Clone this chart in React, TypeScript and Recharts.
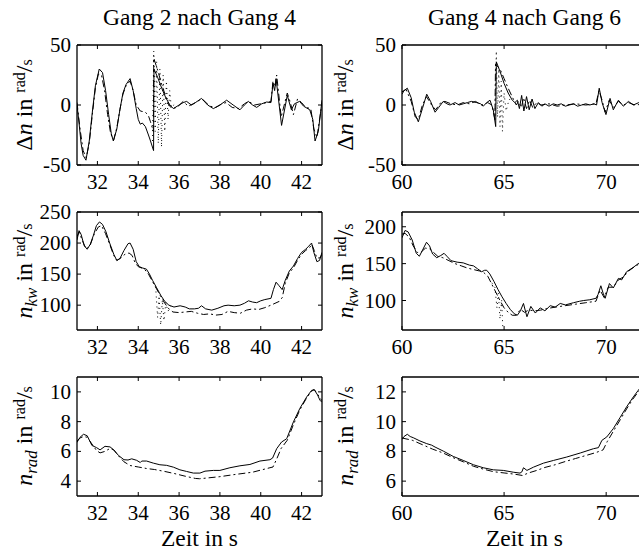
import { LineChart, Line, XAxis, YAxis } from 'recharts'

// [time in s, value] pairs
const a1Solid: [number, number][] = [
  [31.0, 0], [31.1, -15], [31.2, -32], [31.3, -42], [31.44, -46], [31.6, -30], [31.75, -6], [31.9, 16],
  [32.09, 30], [32.25, 27], [32.4, 12], [32.55, -8], [32.68, -24], [32.78, -30], [32.95, -20], [33.1, -4],
  [33.25, 10], [33.4, 17], [33.6, 22], [33.75, 12], [33.9, -3], [34.0, -12], [34.1, -16], [34.2, -15],
  [34.35, -18], [34.5, -25], [34.6, -30], [34.75, -38], [34.77, 30], [34.95, 23], [35.15, 14], [35.35, 6],
  [35.55, 0], [35.72, -3], [36.0, 0], [36.2, 2], [36.37, 3], [36.6, 0], [36.8, 2], [37.1, 5.5],
  [37.4, 0], [37.68, -3], [38.0, 0], [38.33, 4], [38.65, 0], [38.98, -4], [39.2, 0], [39.39, 3],
  [39.6, 0], [39.8, -2], [40.05, 1], [40.29, 2.5], [40.5, 2], [40.6, 18], [40.68, 12], [40.75, 22],
  [41.02, -17], [41.3, 8], [41.5, -4], [41.65, 1], [41.9, 3], [42.1, -1], [42.4, -4], [42.55, -12],
  [42.66, -30], [42.82, -22], [43.0, 4],
]
const a1Model: [number, number][] = [
  [31.0, 2], [31.15, -20], [31.3, -38], [31.45, -44], [31.6, -32], [31.75, -8], [31.9, 14], [32.05, 26],
  [32.2, 25], [32.35, 12], [32.5, -8], [32.65, -24], [32.8, -29], [32.95, -19], [33.1, -4], [33.25, 9],
  [33.4, 16], [33.6, 20], [33.75, 12], [33.9, 0], [34.1, -5], [34.35, -6], [34.5, -9], [34.6, -14],
  [34.74, -22], [34.76, 39], [34.95, 29], [35.15, 17], [35.35, 7], [35.5, 0], [35.65, -3], [35.9, -2],
  [36.2, 3], [36.45, -1], [36.7, 1], [37.0, 4], [37.2, 4], [37.5, -1], [37.8, -2], [38.1, 1],
  [38.3, 2], [38.6, -2], [38.9, -3], [39.2, 1], [39.4, 3], [39.7, 0], [40.0, 1], [40.3, 2],
  [40.5, 3], [40.6, 20], [40.7, 15], [40.78, 25], [41.0, -10], [41.3, 10], [41.45, 2], [41.6, -8],
  [41.8, 5], [42.0, 2], [42.2, -2], [42.45, -3], [42.6, -20], [42.75, -27], [42.9, -10], [43.0, 2],
]
const a1Dot: [number, number][] = [
  [34.7, -30], [34.76, 45], [34.83, -22], [34.9, 36], [34.98, -32], [35.06, 30], [35.14, -35],
  [35.22, 25], [35.3, -22], [35.38, 20], [35.46, -12], [35.54, 12], [35.62, -2], [35.8, 1],
]

const b1Solid: [number, number][] = [
  [60.0, 9], [60.1, 12], [60.26, 14], [60.45, 6], [60.6, -6], [60.8, -14], [61.0, -3], [61.21, 9],
  [61.4, 3], [61.62, -6], [61.8, -2], [62.02, 3], [62.2, 1], [62.35, 0], [62.6, 2], [62.8, 0],
  [63.0, 1], [63.2, 2], [63.4, 3], [63.66, 2], [63.85, 1], [63.98, -1], [64.15, 2], [64.31, 4],
  [64.47, -4], [64.59, -18], [64.62, 36], [64.8, 28], [65.0, 18], [65.2, 10], [65.4, 4], [65.53, 2],
  [65.65, 4], [65.75, -3], [65.86, 8], [65.97, -5], [66.1, 7], [66.23, -4], [66.37, 5], [66.51, -3],
  [66.68, 2], [66.85, -1], [67.0, 1], [67.2, -1], [67.41, 1], [67.6, 0], [67.8, 1], [68.0, -1],
  [68.2, 0], [68.4, 1], [68.6, -1], [68.8, 0], [69.0, 1], [69.2, 0], [69.4, 1], [69.53, 0],
  [69.66, 14], [69.8, 2], [69.99, -8], [70.19, 5.5], [70.35, -4], [70.6, 4], [70.84, -1], [71.09, 3],
  [71.33, 0], [71.6, 2], [71.8, 0], [72.0, 1],
]
const b1Model: [number, number][] = [
  [60.0, 11], [60.2, 13], [60.45, 3], [60.65, -10], [60.8, -12], [61.0, 0], [61.2, 7], [61.45, 0],
  [61.65, -4], [61.9, 2], [62.1, 3], [62.4, 1], [62.7, 0], [63.0, 2], [63.3, 1], [63.6, 3],
  [63.9, 0], [64.2, 2], [64.4, 0], [64.55, -12], [64.58, 34], [64.8, 30], [65.0, 22], [65.2, 14],
  [65.45, 5], [65.6, 0], [65.7, 3], [65.85, -2], [65.95, 6], [66.1, -3], [66.25, 4], [66.4, -2],
  [66.6, 2], [66.8, 0], [67.2, 1], [67.6, -1], [68.0, 0], [68.5, 1], [69.0, 0], [69.5, 1],
  [69.65, 12], [69.8, 4], [69.95, -6], [70.15, 4], [70.35, -2], [70.6, 3], [70.85, 0], [71.1, 2],
  [71.4, 0], [72.0, 1],
]
const b1Dot: [number, number][] = [
  [64.55, -12], [64.62, 45], [64.68, -10], [64.74, 30], [64.8, -18], [64.86, 20], [64.92, -22],
  [65.0, 10], [65.1, -5], [65.25, 5], [65.4, 2],
]

const a2Solid: [number, number][] = [
  [31.0, 205], [31.1, 220], [31.2, 214], [31.35, 196], [31.5, 190], [31.65, 198], [31.8, 212], [31.95, 228],
  [32.1, 234], [32.25, 230], [32.42, 218], [32.6, 200], [32.8, 182], [32.95, 172], [33.1, 175], [33.3, 188],
  [33.5, 199], [33.6, 200], [33.75, 190], [33.9, 170], [34.05, 162], [34.2, 160], [34.4, 158], [34.55, 150],
  [34.7, 140], [34.9, 128], [35.1, 116], [35.3, 106], [35.5, 100], [35.75, 97], [36.05, 99], [36.3, 97],
  [36.5, 94], [36.75, 94], [36.95, 95], [37.1, 99], [37.3, 94], [37.6, 92], [37.9, 95], [38.2, 99],
  [38.4, 100], [38.7, 99], [38.98, 100], [39.2, 103], [39.4, 107], [39.6, 105], [39.8, 104], [40.0, 107],
  [40.2, 109], [40.5, 111], [40.62, 125], [40.75, 137], [40.88, 132], [41.05, 125], [41.2, 140], [41.4, 155],
  [41.6, 163], [41.8, 175], [42.0, 185], [42.2, 190], [42.35, 195], [42.49, 200], [42.6, 185], [42.75, 170],
  [42.88, 172], [43.0, 185],
]
const a2Model: [number, number][] = [
  [31.0, 210], [31.1, 218], [31.25, 205], [31.45, 190], [31.65, 197], [31.85, 215], [32.05, 226], [32.2, 228],
  [32.4, 215], [32.6, 198], [32.8, 180], [32.95, 172], [33.15, 176], [33.35, 182], [33.55, 184], [33.7, 180],
  [33.85, 168], [34.0, 162], [34.3, 158], [34.5, 150], [34.7, 138], [34.9, 126], [35.1, 114], [35.3, 103],
  [35.5, 94], [35.7, 89], [36.0, 88], [36.3, 89], [36.6, 90], [36.9, 87], [37.2, 85], [37.5, 86],
  [37.8, 84], [38.1, 85], [38.4, 90], [38.7, 88], [39.0, 87], [39.3, 92], [39.6, 94], [39.9, 93],
  [40.2, 96], [40.5, 100], [40.9, 106], [41.05, 112], [41.2, 135], [41.4, 152], [41.6, 160], [41.8, 172],
  [42.0, 182], [42.2, 188], [42.4, 193], [42.5, 198], [42.62, 188], [42.75, 176], [42.9, 176], [43.0, 182],
]
const a2Dot: [number, number][] = [
  [34.85, 130], [34.95, 80], [35.02, 115], [35.1, 68], [35.18, 108], [35.26, 75], [35.35, 104],
  [35.45, 90], [35.6, 98],
]

const b2Solid: [number, number][] = [
  [60.0, 185], [60.15, 195], [60.3, 193], [60.5, 182], [60.7, 164], [60.85, 160], [61.0, 168], [61.2, 179],
  [61.35, 174], [61.5, 163], [61.7, 158], [61.9, 161], [62.06, 164], [62.2, 160], [62.4, 154], [62.7, 152],
  [63.0, 151], [63.3, 148], [63.5, 147], [63.7, 143], [63.9, 139], [64.05, 141], [64.15, 141], [64.3, 136],
  [64.5, 126], [64.7, 115], [64.9, 105], [65.1, 96], [65.3, 88], [65.5, 82], [65.65, 80], [65.8, 86],
  [65.95, 96], [66.05, 85], [66.12, 78], [66.31, 92], [66.53, 83], [66.77, 90], [67.0, 86], [67.26, 93],
  [67.5, 91], [67.75, 96], [68.0, 94], [68.4, 97], [68.7, 99], [68.9, 100], [69.2, 101], [69.5, 103],
  [69.6, 108], [69.74, 120], [69.85, 110], [69.95, 103], [70.16, 123], [70.35, 117], [70.6, 130], [70.76, 128],
  [71.0, 139], [71.33, 145], [71.57, 150], [72.0, 156],
]
const b2Model: [number, number][] = [
  [60.0, 190], [60.15, 191], [60.35, 186], [60.55, 174], [60.75, 165], [60.95, 166], [61.15, 171], [61.35, 170],
  [61.55, 165], [61.75, 160], [62.0, 158], [62.3, 154], [62.6, 150], [62.9, 147], [63.2, 144], [63.5, 142],
  [63.8, 140], [64.0, 138], [64.2, 133], [64.4, 122], [64.6, 111], [64.8, 100], [65.0, 90], [65.2, 84],
  [65.4, 80], [65.6, 80], [65.8, 88], [66.0, 84], [66.2, 87], [66.5, 86], [66.8, 87], [67.1, 89],
  [67.5, 91], [68.0, 93], [68.5, 95], [69.0, 97], [69.5, 99], [69.7, 114], [69.9, 104], [70.1, 118],
  [70.35, 118], [70.6, 128], [70.85, 132], [71.1, 140], [71.4, 146], [71.7, 151], [72.0, 156],
]
const b2Dot: [number, number][] = [
  [64.4, 124], [64.55, 118], [64.65, 90], [64.72, 110], [64.8, 75], [64.88, 100], [64.95, 55],
]

const a3Solid: [number, number][] = [
  [31.0, 6.6], [31.15, 6.95], [31.32, 7.15], [31.5, 7.05], [31.73, 6.4], [31.96, 6.25], [32.13, 6.1], [32.37, 6.34],
  [32.62, 6.3], [32.8, 6.1], [33.03, 5.73], [33.3, 5.44], [33.5, 5.42], [33.68, 5.5], [33.92, 5.4], [34.1, 5.25],
  [34.17, 5.35], [34.41, 5.35], [34.74, 5.21], [35.06, 5.1], [35.39, 5.06], [35.72, 4.94], [36.04, 4.76], [36.37, 4.65],
  [36.7, 4.54], [37.02, 4.54], [37.27, 4.67], [37.68, 4.72], [38.0, 4.72], [38.49, 4.9], [38.98, 5.03], [39.47, 5.12],
  [39.96, 5.35], [40.45, 5.44], [40.58, 5.55], [40.78, 6.18], [41.02, 6.63], [41.27, 6.85], [41.6, 7.98], [41.92, 8.9],
  [42.25, 9.66], [42.49, 10.1], [42.62, 10.15], [42.78, 9.8], [42.9, 9.44], [43.0, 9.3],
]
const a3Model: [number, number][] = [
  [31.0, 6.7], [31.15, 6.9], [31.32, 7.0], [31.5, 6.95], [31.73, 6.5], [31.96, 6.05], [32.13, 5.9], [32.37, 6.0],
  [32.62, 6.2], [32.8, 6.1], [33.03, 5.7], [33.3, 5.3], [33.6, 5.05], [34.0, 4.95], [34.4, 4.85], [34.8, 4.78],
  [35.3, 4.65], [35.8, 4.5], [36.3, 4.33], [36.8, 4.18], [37.0, 4.16], [37.3, 4.2], [38.0, 4.3], [38.65, 4.43],
  [39.6, 4.6], [40.45, 4.9], [40.6, 4.95], [40.8, 5.55], [41.0, 6.2], [41.3, 6.75], [41.6, 7.8], [41.92, 8.8],
  [42.25, 9.6], [42.49, 10.05], [42.62, 10.15], [42.78, 9.85], [43.0, 9.4],
]

const b3Solid: [number, number][] = [
  [60.0, 8.8], [60.1, 9.0], [60.26, 9.15], [60.4, 9.0], [60.55, 8.92], [60.88, 8.7], [61.21, 8.52], [61.45, 8.42],
  [61.62, 8.29], [62.02, 8.02], [62.51, 7.66], [63.0, 7.39], [63.5, 7.1], [63.98, 6.9], [64.47, 6.76], [64.96, 6.72],
  [65.45, 6.6], [65.78, 6.54], [65.87, 6.62], [65.95, 6.9], [66.12, 6.72], [66.44, 6.94], [66.93, 7.21], [67.42, 7.39],
  [68.07, 7.62], [68.73, 7.89], [69.38, 8.18], [69.62, 8.25], [69.79, 8.74], [70.03, 8.97], [70.35, 9.53], [70.68, 10.27],
  [71.0, 10.99], [71.33, 11.66], [71.57, 12.1], [72.0, 12.85],
]
const b3Model: [number, number][] = [
  [60.0, 8.9], [60.5, 8.75], [61.0, 8.45], [61.5, 8.15], [62.0, 7.9], [62.5, 7.58], [63.0, 7.3], [63.5, 7.0],
  [64.0, 6.8], [64.5, 6.63], [65.0, 6.55], [65.5, 6.47], [65.9, 6.38], [66.2, 6.55], [66.6, 6.72], [67.0, 6.92],
  [67.5, 7.1], [68.0, 7.32], [68.5, 7.52], [69.0, 7.72], [69.5, 7.92], [69.85, 8.1], [70.05, 8.65], [70.35, 9.35],
  [70.7, 10.15], [71.0, 10.85], [71.3, 11.5], [71.6, 12.05], [72.0, 12.75],
]

const leftTimeTicks = [32, 34, 36, 38, 40, 42]
const rightTimeTicks = [60, 65, 70]
const dnTicks = [-50, 0, 50]
const nkwLeftTicks = [100, 150, 200, 250]
const nkwRightTicks = [100, 150, 200]
const nradLeftTicks = [4, 6, 8, 10]
const nradRightTicks = [6, 8, 10, 12]

const FONT = 'Liberation Serif'
const PW = 245
const ML = 60
const MR = 6
const MT = 16
const MB = 36
const TICK = 4

const pts = (arr: [number, number][]) => arr.map(([t, v]) => ({ t, v }))

type Series = { data: [number, number][]; dash?: string }

function BottomTick({ x, y, payload }: any) {
  return (
    <g>
      <line x1={x} y1={y} x2={x} y2={y - TICK} stroke="#000" />
      <text x={x} y={y + 24} textAnchor="middle" fontSize={21} fontFamily={FONT} fill="#000">
        {payload.value}
      </text>
    </g>
  )
}

function LeftTick({ x, y, payload }: any) {
  return (
    <g>
      <line x1={x} y1={y} x2={x + TICK} y2={y} stroke="#000" />
      <text x={x - 6} y={y + 7} textAnchor="end" fontSize={21} fontFamily={FONT} fill="#000">
        {payload.value}
      </text>
    </g>
  )
}

function Panel({
  x, y, h, xDomain, xTicks, yDomain, yTicks, series,
}: {
  x: number; y: number; h: number; xDomain: [number, number]; xTicks: number[]
  yDomain: [number, number]; yTicks: number[]; series: Series[]
}) {
  const axisStroke = { stroke: '#000', strokeWidth: 1.3 }
  return (
    <div style={{ position: 'absolute', left: x - ML, top: y - MT }}>
      <LineChart width={PW + ML + MR} height={h + MT + MB} margin={{ top: 0, right: 0, bottom: 0, left: 0 }}>
        <XAxis
          xAxisId="b" dataKey="t" type="number" domain={xDomain} ticks={xTicks} allowDataOverflow
          orientation="bottom" height={MB} tickSize={0} tickMargin={0} interval={0}
          axisLine={axisStroke} tickLine={false}
          tick={(p: any) => <BottomTick {...p} />}
        />
        <XAxis
          xAxisId="t" dataKey="t" type="number" domain={xDomain} ticks={xTicks} allowDataOverflow
          orientation="top" height={MT} tickSize={0} tickMargin={0} interval={0}
          axisLine={axisStroke} tickLine={false}
          tick={(p: any) => (
            <line x1={p.x} y1={p.y} x2={p.x} y2={p.y + TICK} stroke="#000" />
          )}
        />
        <YAxis
          yAxisId="l" type="number" domain={yDomain} ticks={yTicks} allowDataOverflow
          width={ML} tickSize={0} tickMargin={0} interval={0}
          axisLine={axisStroke} tickLine={false}
          tick={(p: any) => <LeftTick {...p} />}
        />
        <YAxis
          yAxisId="r" orientation="right" type="number" domain={yDomain} ticks={yTicks} allowDataOverflow
          width={MR} tickSize={0} tickMargin={0} interval={0}
          axisLine={axisStroke} tickLine={false}
          tick={(p: any) => (
            <line x1={p.x} y1={p.y} x2={p.x - TICK} y2={p.y} stroke="#000" />
          )}
        />
        {series.map((s, i) => (
          <Line
            key={i}
            xAxisId="b"
            yAxisId="l"
            data={pts(s.data)}
            dataKey="v"
            type="linear"
            stroke="#000"
            strokeWidth={1}
            strokeDasharray={s.dash}
            dot={false}
            activeDot={false}
            isAnimationActive={false}
          />
        ))}
      </LineChart>
    </div>
  )
}

const DASHDOT = '7 3 2 3'
const DOTTED = '1 4'

function YLabel({ x, y, sub, delta }: { x: number; y: number; sub?: string; delta?: boolean }) {
  return (
    <text
      transform={`translate(${x},${y}) rotate(-90)`}
      textAnchor="middle"
      fontSize={24}
      fontFamily={FONT}
      fill="#000"
    >
      {delta && <tspan>Δ</tspan>}
      <tspan fontStyle="italic">n</tspan>
      {sub && (
        <tspan fontStyle="italic" fontSize={17} dy={5}>
          {sub}
        </tspan>
      )}
      <tspan dy={sub ? -5 : 0}> in </tspan>
      <tspan fontSize={16} dy={-7}>rad</tspan>
      <tspan fontSize={24} dy={7}>/</tspan>
      <tspan fontSize={16}>s</tspan>
    </text>
  )
}

export default function App() {
  const lx = 77
  const rx = 402
  const rows = [45, 212, 377]
  const hs = [120, 118, 119]
  return (
    <div style={{ position: 'absolute', left: 0, top: 0, width: 639, height: 552, overflow: 'hidden', background: '#fff' }}>
      <Panel x={lx} y={rows[0]} h={hs[0]} xDomain={[31, 43]} xTicks={leftTimeTicks} yDomain={[-50, 50]} yTicks={dnTicks}
        series={[{ data: a1Dot, dash: DOTTED }, { data: a1Model, dash: DASHDOT }, { data: a1Solid }]} />
      <Panel x={rx} y={rows[0]} h={hs[0]} xDomain={[60, 72]} xTicks={rightTimeTicks} yDomain={[-50, 50]} yTicks={dnTicks}
        series={[{ data: b1Dot, dash: DOTTED }, { data: b1Model, dash: DASHDOT }, { data: b1Solid }]} />
      <Panel x={lx} y={rows[1]} h={hs[1]} xDomain={[31, 43]} xTicks={leftTimeTicks} yDomain={[60, 250]} yTicks={nkwLeftTicks}
        series={[{ data: a2Dot, dash: DOTTED }, { data: a2Model, dash: DASHDOT }, { data: a2Solid }]} />
      <Panel x={rx} y={rows[1]} h={hs[1]} xDomain={[60, 72]} xTicks={rightTimeTicks} yDomain={[60, 220]} yTicks={nkwRightTicks}
        series={[{ data: b2Dot, dash: DOTTED }, { data: b2Model, dash: DASHDOT }, { data: b2Solid }]} />
      <Panel x={lx} y={rows[2]} h={hs[2]} xDomain={[31, 43]} xTicks={leftTimeTicks} yDomain={[3, 11]} yTicks={nradLeftTicks}
        series={[{ data: a3Model, dash: DASHDOT }, { data: a3Solid }]} />
      <Panel x={rx} y={rows[2]} h={hs[2]} xDomain={[60, 72]} xTicks={rightTimeTicks} yDomain={[5, 13]} yTicks={nradRightTicks}
        series={[{ data: b3Model, dash: DASHDOT }, { data: b3Solid }]} />

      <svg width={639} height={552} style={{ position: 'absolute', left: 0, top: 0, pointerEvents: 'none' }}>
        <text x={199.5} y={25} textAnchor="middle" fontSize={23.5} fontFamily={FONT}>Gang 2 nach Gang 4</text>
        <text x={524.5} y={25} textAnchor="middle" fontSize={23.5} fontFamily={FONT}>Gang 4 nach Gang 6</text>
        <text x={199.5} y={546} textAnchor="middle" fontSize={23.5} fontFamily={FONT}>Zeit in s</text>
        <text x={524.5} y={546} textAnchor="middle" fontSize={23.5} fontFamily={FONT}>Zeit in s</text>
        <YLabel x={32} y={105} delta />
        <YLabel x={353} y={105} delta />
        <YLabel x={32} y={271} sub="kw" />
        <YLabel x={353} y={271} sub="kw" />
        <YLabel x={32} y={436} sub="rad" />
        <YLabel x={353} y={436} sub="rad" />
      </svg>
    </div>
  )
}
